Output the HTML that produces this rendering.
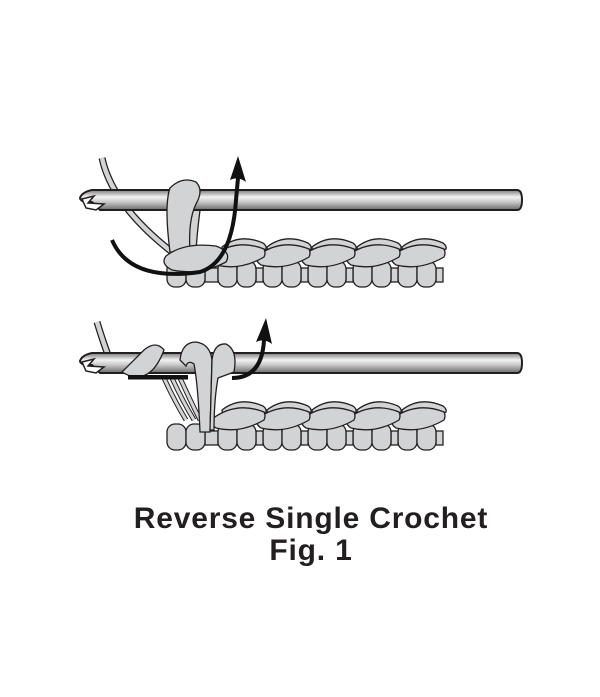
<!DOCTYPE html>
<html><head><style>
html,body{margin:0;padding:0;background:#fff;width:600px;height:697px;overflow:hidden}
svg{position:absolute;left:0;top:0}
.t{font-family:"Liberation Sans",Arial,sans-serif;font-weight:bold;fill:#231f20;text-anchor:middle}
</style></head><body>
<svg width="600" height="697" viewBox="0 0 600 697">
<defs>
<linearGradient id="hk" x1="0" y1="0" x2="0" y2="1">
<stop offset="0" stop-color="#7a7a7a"/><stop offset="0.35" stop-color="#f2f2f2"/><stop offset="0.6" stop-color="#c8c8c8"/><stop offset="1" stop-color="#6a6a6a"/>
</linearGradient>
<!-- stitch: s=0 is left of leg pair; y=0 at row top (237) -->
<g id="st" stroke="#231f20" stroke-width="1.3" fill="#d2d3d5">
<rect x="38" y="31" width="7" height="14"/>
<rect x="0" y="24" width="19" height="26" rx="8"/>
<rect x="19" y="24" width="19" height="26" rx="8"/>
<path d="M4 10 Q22 -4 45 6 Q49 9 48 12 Q30 22 10 18 Q4 15 4 10Z"/>
<path d="M-6 19 Q18 1 46 12 Q48 16 46 20 Q22 34 -2 28 Q-8 24 -6 19Z"/>
</g>
<g id="row">
<g stroke="#231f20" stroke-width="1.3" fill="#d2d3d5">
<rect x="205" y="31" width="13" height="14"/>
<rect x="167" y="24" width="19" height="26" rx="8"/><rect x="186" y="24" width="19" height="26" rx="8"/>
</g>
<use href="#st" x="398"/><use href="#st" x="353"/><use href="#st" x="308"/><use href="#st" x="263"/><use href="#st" x="218"/>
</g>
<g id="hook">
<path d="M92 0 L517 0 Q522 0 522 10 Q522 20 517 20 L100 20 L92 12 L84 12 Q80 10 80 8 Q82 2 92 0Z" fill="url(#hk)" stroke="#231f20" stroke-width="2"/>
<path d="M82 9 L94 6 L88 13 L104 14 L96 20 L86 18 Z" fill="#fff" stroke="#231f20" stroke-width="1.5"/>
</g>
</defs>

<!-- Figure 1 -->
<path d="M102 158 Q112 205 172 252" fill="none" stroke="#231f20" stroke-width="7"/>
<path d="M102 158 Q112 205 172 252" fill="none" stroke="#d2d3d5" stroke-width="4.5"/>
<use href="#row" x="0" y="237"/>
<g stroke="#231f20" stroke-width="1.3" fill="#d2d3d5">
<path d="M187 250 Q186 220 192 196 L202 196 Q198 222 196 250Z"/>
</g>
<use href="#hook" x="0" y="190"/>
<g stroke="#231f20" stroke-width="1.3" fill="#d2d3d5">
<path d="M170 252 Q164 205 170 188 Q182 176 196 182 Q204 190 196 204 Q188 220 190 252 Z"/>
<path d="M166 256 Q184 242 216 246 Q232 252 226 262 Q200 276 172 270 Q160 264 166 256Z"/>
</g>
<path d="M112 240 Q130 282 200 272 Q232 262 236 200 L238 178" fill="none" stroke="#111" stroke-width="4"/>
<path d="M230 180 L238 156 L246 182 Q238 176 230 180Z" fill="#111"/>

<!-- Figure 2 -->
<path d="M97 322 Q104 345 110 360" fill="none" stroke="#231f20" stroke-width="7"/>
<path d="M97 322 Q104 345 110 360" fill="none" stroke="#d2d3d5" stroke-width="4.5"/>
<path d="M164 378 Q174 400 186 420 M172 378 Q182 400 194 420 M180 378 Q190 400 200 420" fill="none" stroke="#231f20" stroke-width="5"/>
<path d="M164 378 Q174 400 186 420 M172 378 Q182 400 194 420 M180 378 Q190 400 200 420" fill="none" stroke="#d2d3d5" stroke-width="3"/>
<use href="#row" x="0" y="400"/>
<use href="#hook" x="0" y="353"/>
<g stroke="#231f20" stroke-width="1.3" fill="#d2d3d5">
<path d="M122 372 Q134 360 144 350 Q156 340 164 350 Q158 366 150 372 Q138 382 122 372Z"/>
<path d="M180 360 Q182 342 196 342 Q210 344 212 360 L210 432 L200 432 Q198 385 194 364 Q188 360 186 366 Z"/>
<path d="M212 360 Q214 343 226 344 Q238 350 234 372 L218 378 Q214 400 214 430 L210 430 Z"/>
</g>
<rect x="128" y="375" width="60" height="4.5" fill="#111"/>
<path d="M232 378 Q262 378 264 340" fill="none" stroke="#111" stroke-width="4"/>
<path d="M256 342 L266 318 L272 344 Q264 338 256 342Z" fill="#111"/>

<text class="t" x="311" y="528" font-size="30" letter-spacing="0.8">Reverse Single Crochet</text>
<text class="t" x="311" y="560" font-size="30" letter-spacing="0.8">Fig. 1</text>
</svg>
</body></html>
